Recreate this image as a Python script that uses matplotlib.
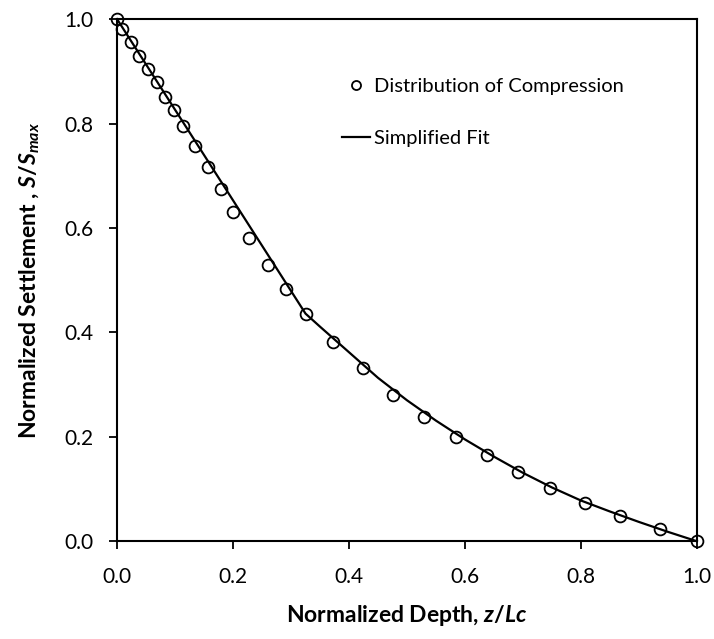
import matplotlib
matplotlib.use("Agg")
import matplotlib.pyplot as plt

plt.rcParams['font.family'] = ['Lato', 'DejaVu Sans']
plt.rcParams['mathtext.fontset'] = 'custom'
plt.rcParams['mathtext.it'] = 'Lato:italic:bold'
plt.rcParams['mathtext.rm'] = 'Lato:bold'

# measured points (distribution of compression)
depth = [0.0, 0.008, 0.024, 0.038, 0.053, 0.068, 0.083, 0.098, 0.114, 0.135,
         0.157, 0.179, 0.200, 0.227, 0.261, 0.291, 0.325, 0.373, 0.424, 0.476,
         0.530, 0.584, 0.638, 0.692, 0.747, 0.807, 0.868, 0.936, 1.0]
settle = [1.0, 0.981, 0.957, 0.930, 0.904, 0.879, 0.851, 0.826, 0.796, 0.758,
          0.717, 0.674, 0.630, 0.581, 0.530, 0.483, 0.436, 0.382, 0.331, 0.281,
          0.238, 0.200, 0.165, 0.133, 0.102, 0.074, 0.048, 0.023, 0.0]

# simplified fit
fit_x = [0.0, 0.325, 0.35, 0.40, 0.45, 0.50, 0.55, 0.60, 0.65, 0.70,
         0.75, 0.80, 0.85, 0.90, 0.95, 1.0]
fit_y = [1.0, 0.436, 0.411, 0.362, 0.313, 0.270, 0.231, 0.195, 0.162, 0.131,
         0.103, 0.078, 0.057, 0.037, 0.018, 0.0]

ticks = [0, 0.2, 0.4, 0.6, 0.8, 1.0]
tick_labels = ['0.0', '0.2', '0.4', '0.6', '0.8', '1.0']

fig = plt.figure(figsize=(7.14, 6.39), dpi=100)
ax = fig.add_axes([0.164, 0.153, 0.812, 0.817])

ax.plot(depth, settle, 'o', mfc='none', mec='black', mew=1.3, ms=8.5,
        label='Distribution of Compression', clip_on=False, zorder=3)
ax.plot(fit_x, fit_y, '-', color='black', lw=1.6, label='Simplified Fit',
        clip_on=False, zorder=2)

ax.set_xlim(0, 1)
ax.set_ylim(0, 1)
ax.set_xticks(ticks)
ax.set_yticks(ticks)
ax.set_xticklabels(tick_labels)
ax.set_yticklabels(tick_labels)
ax.tick_params(direction='out', length=5.8, width=1.3, labelsize=15,
               colors='black')
ax.tick_params(axis='x', pad=13)
ax.tick_params(axis='y', pad=11)
for s in ax.spines.values():
    s.set_linewidth(1.5)
    s.set_color('black')

ax.set_xlabel(r'Normalized Depth, $z/Lc$', fontsize=16.5, fontweight='bold',
              labelpad=11)
ax.set_ylabel(r'Normalized Settlement , $S/S_{max}$', fontsize=16.5,
              fontweight='bold', labelpad=16)

leg = ax.legend(loc='upper left', bbox_to_anchor=(0.357, 0.922), frameon=False,
                fontsize=14.5, handlelength=1.4, handletextpad=0.2,
                labelspacing=1.75, numpoints=1, borderpad=0.4)
leg.legend_handles[0].set_markersize(6.5)

fig.savefig('out.png', dpi=100)
